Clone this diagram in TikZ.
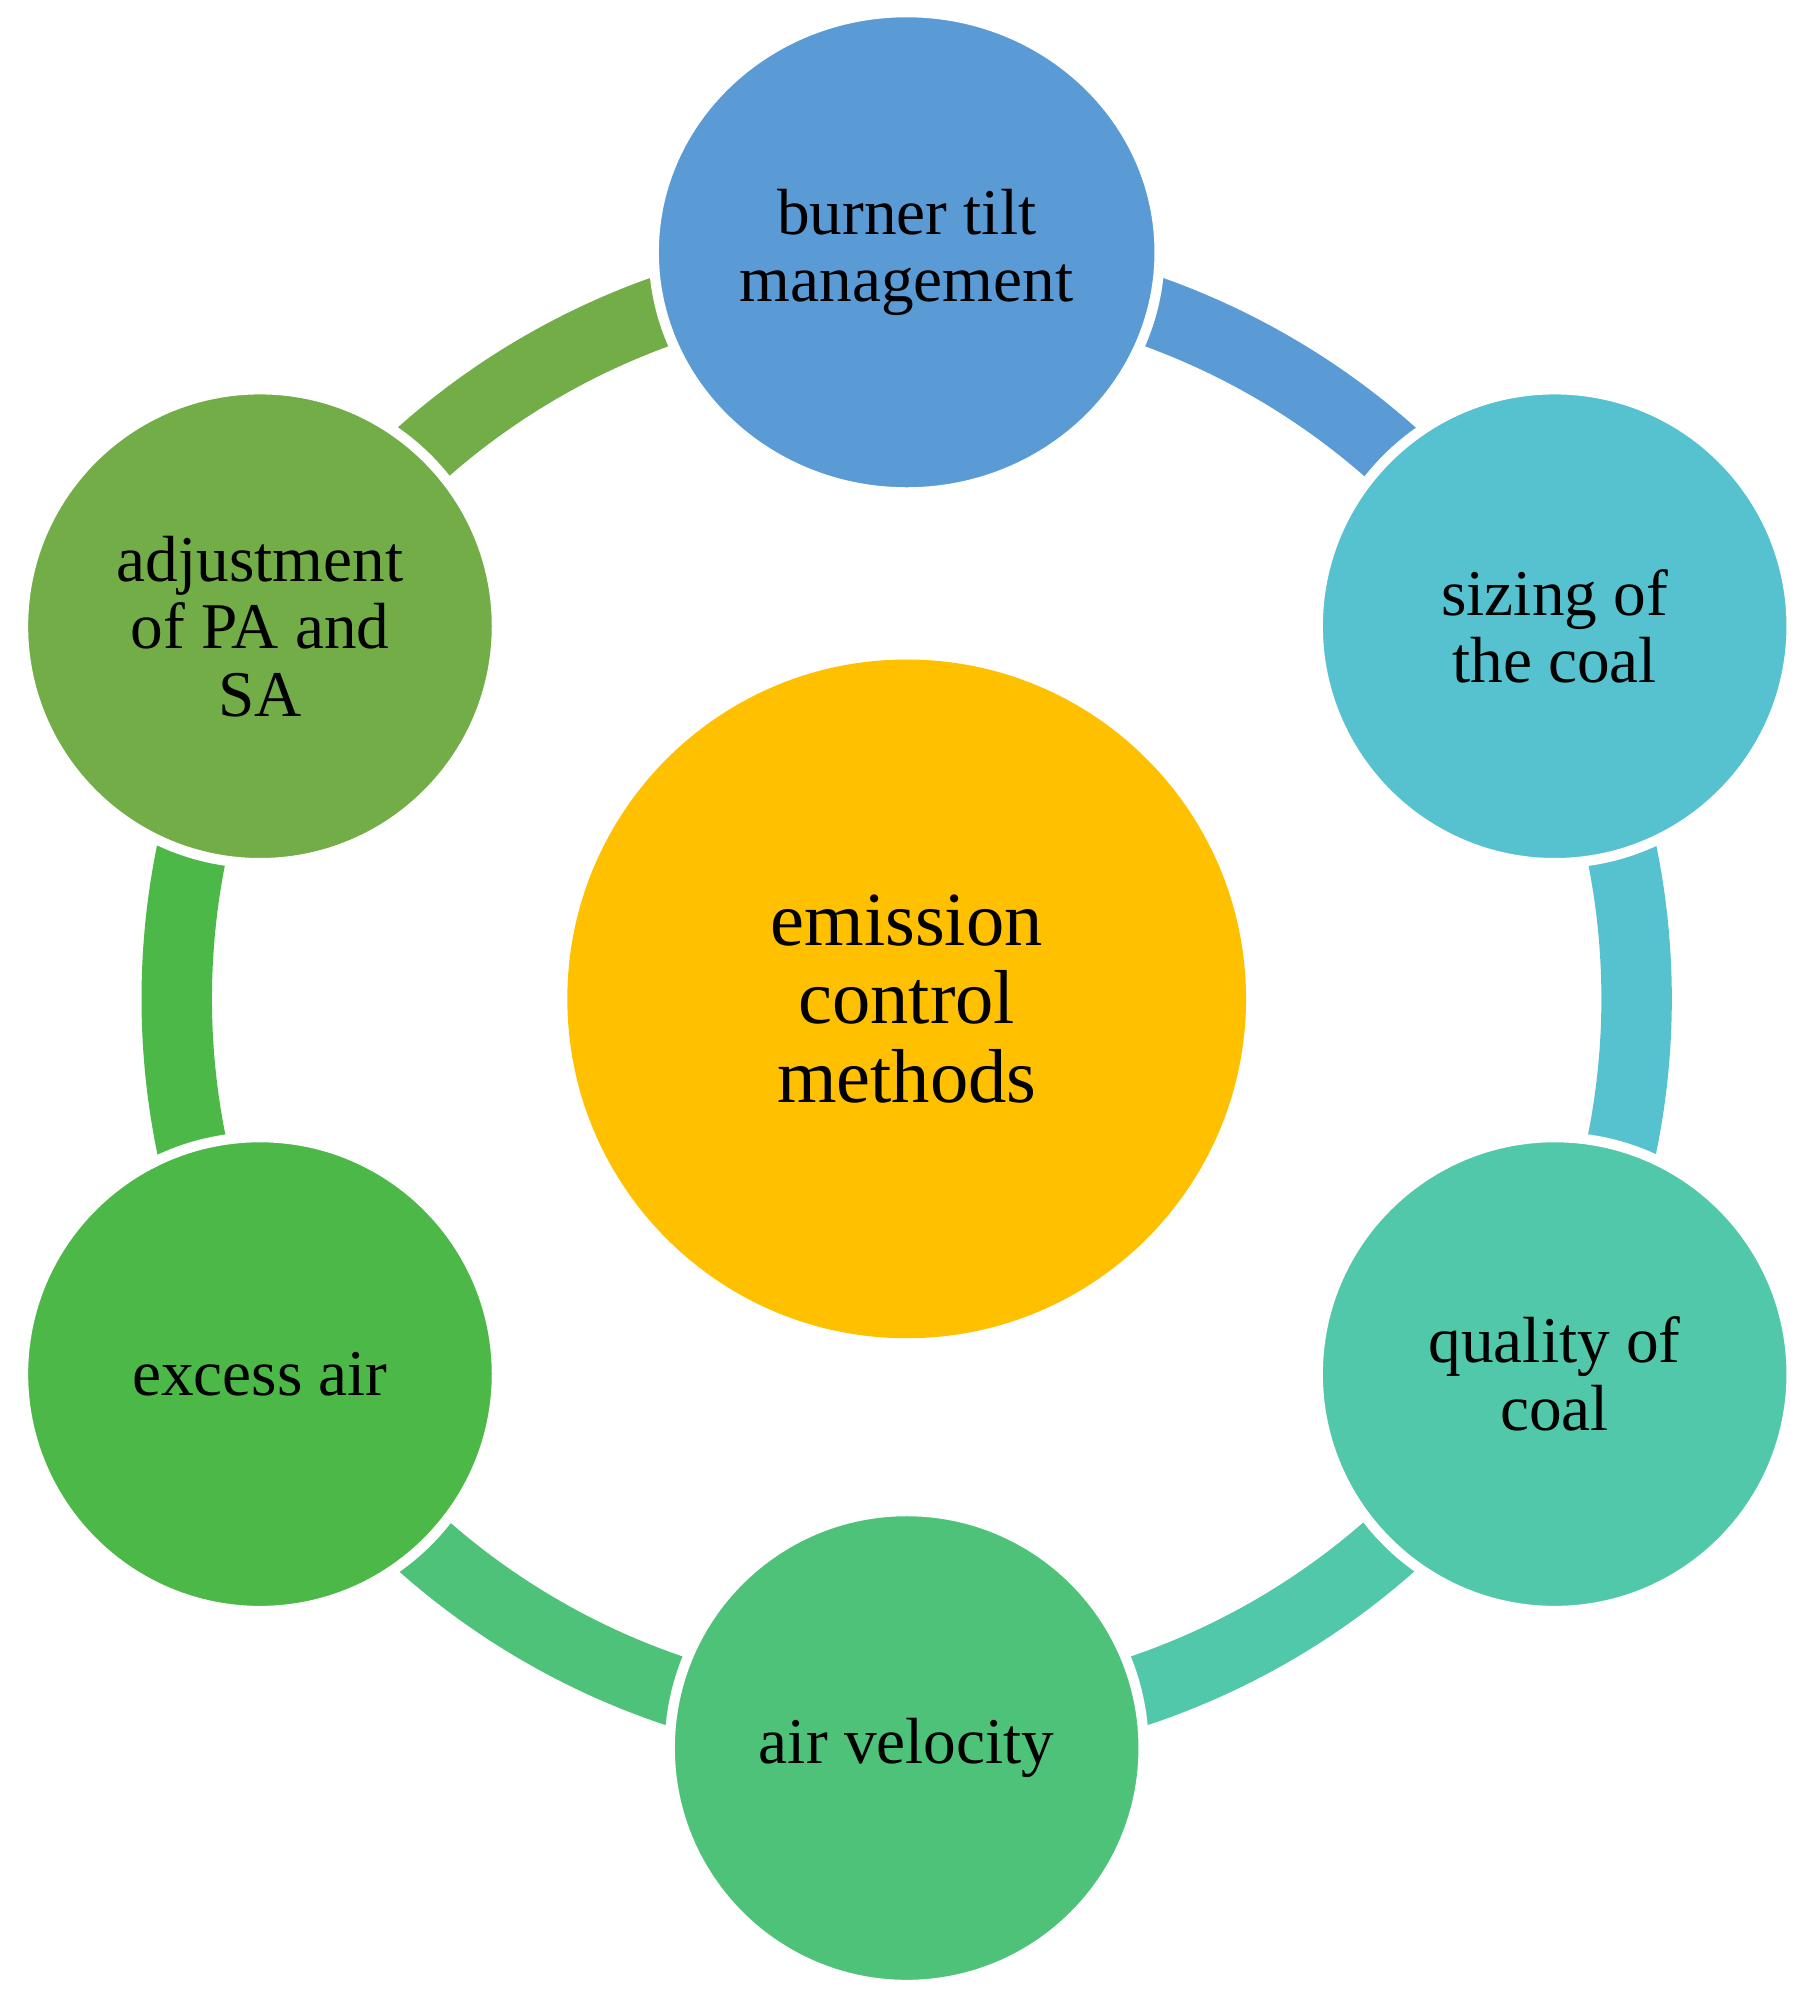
\documentclass[tikz,border=0pt]{standalone}
\usepackage{fontspec}
\setmainfont{Liberation Serif}
\usetikzlibrary{shapes.geometric}
\definecolor{cblue}{HTML}{5B9BD5}
\definecolor{cteal}{HTML}{56C2CF}
\definecolor{cqual}{HTML}{52C8AA}
\definecolor{cvel}{HTML}{4DC278}
\definecolor{cexc}{HTML}{4BB847}
\definecolor{cadj}{HTML}{72AD47}
\definecolor{cgold}{HTML}{FFC000}
\begin{document}
\begin{tikzpicture}[x=0.1mm,y=0.1mm,
  sat/.style={circle,draw=white,line width=0.8mm,minimum size=37mm,inner sep=0pt,align=center,font=\fontsize{14.5}{15}\selectfont},
  band/.style={line width=5.5mm}]
\useasboundingbox (0,0) rectangle (1413,1568);
\coordinate (C) at (708,788);
\foreach \a/\b/\c in {90/30/cblue,30/-30/cteal,-30/-90/cqual,-90/-150/cvel,-150/-210/cexc,150/90/cadj}
  \draw[band,\c] ([shift={(708,788)}]\a:570) arc[start angle=\a,end angle=\b,radius=57mm];
\node[circle,fill=cgold,minimum size=53mm,inner sep=0pt,align=center,font=\fontsize{17}{17.5}\selectfont] (ctr) at (C) {emission\\control\\methods};
\node[sat,ellipse,minimum width=39.5mm,minimum height=37.5mm,fill=cblue] (top) at (708,1371) {burner tilt\\management};
\node[sat,fill=cteal] (siz) at (1214,1079) {sizing of\\the coal};
\node[sat,fill=cqual] (qual) at (1214,495) {quality of\\coal};
\node[sat,fill=cvel] (vel) at (708,203) {air velocity};
\node[sat,fill=cexc] (exc) at (203,495) {excess air};
\node[sat,fill=cadj] (adj) at (203,1079) {adjustment\\of PA and\\SA};
\end{tikzpicture}
\end{document}
